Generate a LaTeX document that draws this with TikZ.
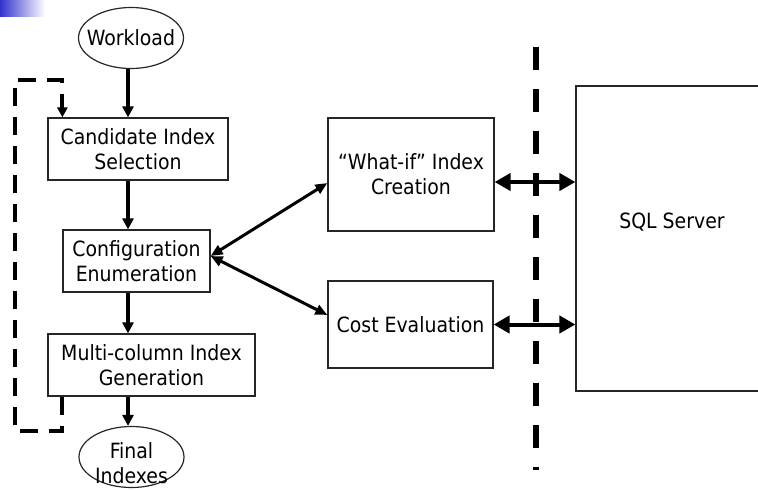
\documentclass[tikz,border=0pt]{standalone}
\usepackage{fontspec}
\setmainfont{DejaVu Sans Condensed}
\usetikzlibrary{shapes.geometric,arrows.meta}

\begin{document}
\begin{tikzpicture}[x=1pt,y=-1pt,
    font=\fontsize{21}{25}\selectfont,
    box/.style={draw=black!85,line width=1.2pt,align=center,inner sep=0pt},
    oval/.style={draw=black!85,line width=1.2pt,ellipse,inner xsep=-16pt,inner ysep=0pt,minimum width=105pt,minimum height=61pt},
    flow/.style={line width=3.2pt,-{Triangle[width=11pt,length=11pt]}},
    link/.style={line width=3pt,{Triangle[width=10pt,length=12pt]}-{Triangle[width=10pt,length=12pt]}},
    wire/.style={line width=4pt,{Triangle[width=17pt,length=16pt]}-{Triangle[width=17pt,length=16pt]}},
    loop/.style={line width=4pt,dash pattern=on 18pt off 11pt,-{Triangle[width=10pt,length=10pt]}},
    divider/.style={line width=6pt,dash pattern=on 23pt off 19pt}]
    \useasboundingbox (0,0) rectangle (758,490);
    \shade[left color={rgb,255:red,51;green,51;blue,204},right color=white] (0,0) rectangle (45,16);

    % tuning tool
    \node[oval] (workload) at (131,38) {Workload};
    \node[box,minimum width=180pt,minimum height=62pt] (cand) at (138,149) {Candidate Index\\Selection};
    \node[box,minimum width=147pt,minimum height=62pt] (config) at (136.5,261) {Configuration\\Enumeration};
    \node[box,minimum width=207pt,minimum height=62pt] (multi) at (151.5,365) {Multi-column Index\\Generation};
    \node[oval] (final) at (131.5,457) {};
    \node[align=center,inner sep=0pt] (finaltext) at (131.5,463) {Final\\Indexes};

    % server side
    \node[box,minimum width=166pt,minimum height=113pt] (whatif) at (411,174.5) {“What-if” Index\\Creation};
    \node[box,minimum width=165pt,minimum height=87pt] (cost) at (410.5,324.5) {Cost Evaluation};
    \node[box,minimum width=192pt,minimum height=305pt] (sql) at (672,238.5) {};
    \node (sqltext) at (672,222) {SQL Server};

    \coordinate (spine) at (128,0);
    \coordinate (loopcorner) at (15,80);
    \coordinate (septop) at (536,47);
    \coordinate (sepbot) at (536,470);

    \draw[flow] (spine |- workload.south) -- (spine |- cand.north);
    \draw[flow] (spine |- cand.south) -- (spine |- config.north);
    \draw[flow] (spine |- config.south) -- (spine |- multi.north);
    \draw[flow] (spine |- multi.south) -- (spine |- final.north);
    \draw[loop] ([xshift=15pt]multi.south west) -- ++(0,34) -| (loopcorner) -| ([xshift=15pt]cand.north west);

    \draw[link] ([yshift=5pt]config.east) -- ([yshift=-8.5pt]whatif.west);
    \draw[link] ([yshift=5pt]config.east) -- ([yshift=9.5pt]cost.west);

    \draw[divider] (septop) -- (sepbot);
    \draw[wire] ([yshift=-7.5pt]whatif.east) -- ([yshift=-7.5pt]whatif.east -| sql.west);
    \draw[wire] (cost.east) -- (cost.east -| sql.west);
\end{tikzpicture}
\end{document}
